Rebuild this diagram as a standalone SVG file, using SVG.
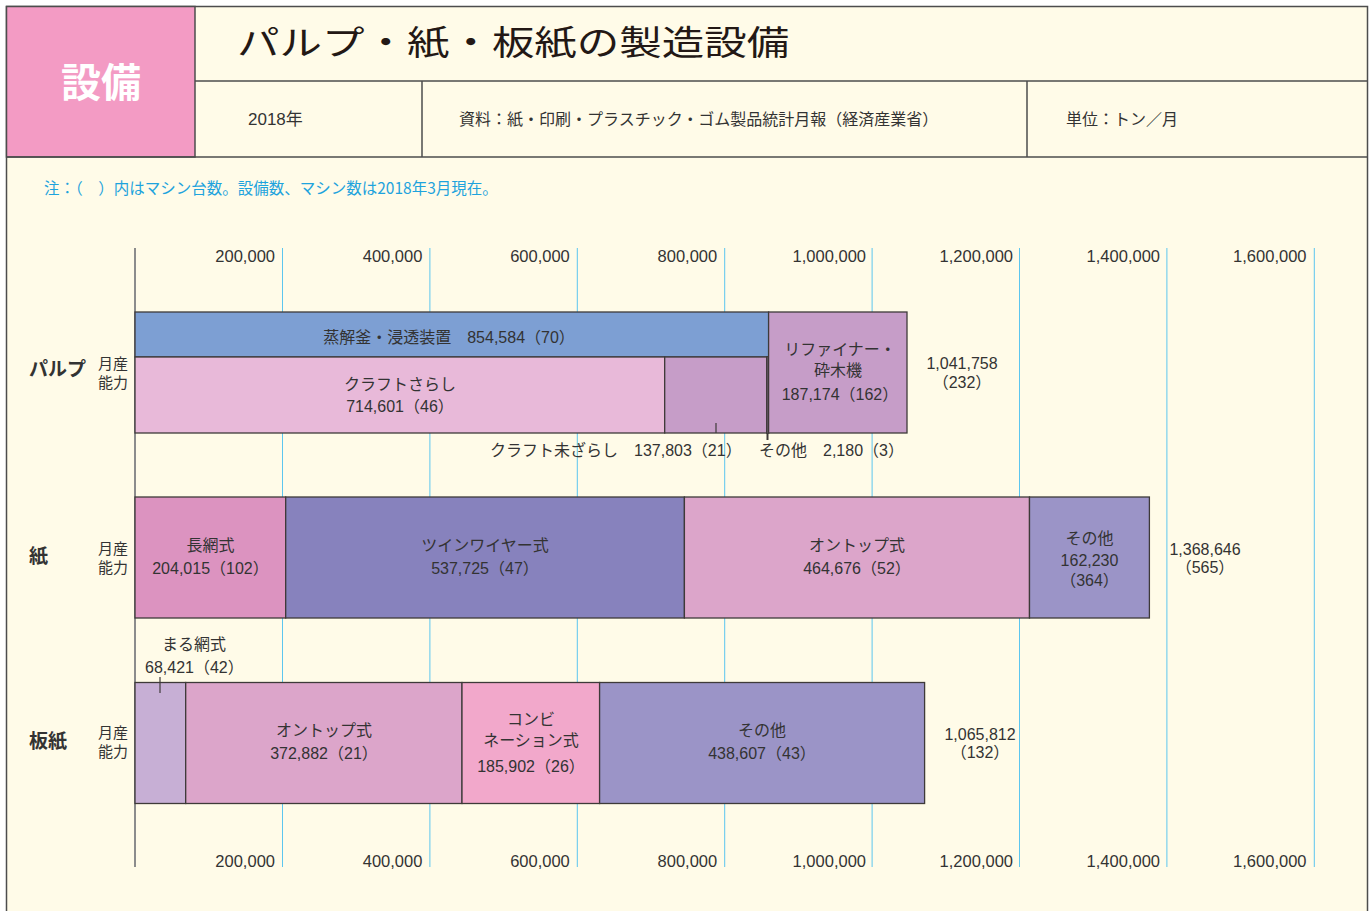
<svg xmlns="http://www.w3.org/2000/svg" width="1371" height="911" viewBox="0 0 1371 911">
<style>
text{font-family:"Liberation Sans","Noto Sans CJK JP",sans-serif;fill:#333;}
.jp{font-family:"Noto Sans CJK JP",sans-serif;}
.lb{font-size:16px;text-anchor:middle;}
.ax{font-size:16.5px;text-anchor:end;}
.hd{font-size:16px;font-family:"Noto Sans CJK JP",sans-serif;}
.cat{font-size:19px;font-weight:bold;font-family:"Noto Sans CJK JP",sans-serif;}
.sub{font-size:15px;font-family:"Noto Sans CJK JP",sans-serif;text-anchor:end;}
.bar{stroke:#3e3a39;stroke-width:1.3;}
.grid{stroke:#5cc6ef;stroke-width:1;}
.rule{stroke:#4d4d4d;stroke-width:1.5;}
.lead{stroke:#3e3a39;stroke-width:1.2;}
</style>
<rect x="0" y="0" width="1371" height="911" fill="#ffffff"/>
<g id="frame">
<rect x="6.5" y="6.5" width="1361" height="960" fill="#fffbe8" class="rule"/>
<rect x="6.5" y="6.5" width="188.5" height="150.5" fill="#f39bc4" class="rule"/>
<line x1="195" y1="81" x2="1368" y2="81" class="rule"/>
<line x1="6" y1="157" x2="1368" y2="157" class="rule"/>
<line x1="422" y1="81" x2="422" y2="157" class="rule"/>
<line x1="1027" y1="81" x2="1027" y2="157" class="rule"/>
</g>
<g id="header">
<text x="101" y="97" style="font-family:'Noto Sans CJK JP',sans-serif;font-size:40px;font-weight:bold;fill:#fff;text-anchor:middle">設備</text>
<text transform="scale(1.25 1)" x="189.6" y="55" style="font-family:'Noto Sans CJK JP',sans-serif;font-size:34px;fill:#231815">パルプ・紙・板紙の製造設備</text>
<text x="248" y="125" style="font-size:17px">2018<tspan class="jp">年</tspan></text>
<text x="459" y="125" class="hd">資料：紙・印刷・プラスチック・ゴム製品統計月報（経済産業省）</text>
<text x="1066" y="125" class="hd">単位：トン／月</text>
<text x="44" y="194" style="font-family:'Noto Sans CJK JP',sans-serif;font-size:15.5px;fill:#1ea3dd">注：（　）内はマシン台数。設備数、マシン数は2018年3月現在。</text>
</g>
<g id="grid">
<line x1="282.5" y1="248" x2="282.5" y2="867" class="grid"/>
<line x1="429.9" y1="248" x2="429.9" y2="867" class="grid"/>
<line x1="577.3" y1="248" x2="577.3" y2="867" class="grid"/>
<line x1="724.7" y1="248" x2="724.7" y2="867" class="grid"/>
<line x1="872.1" y1="248" x2="872.1" y2="867" class="grid"/>
<line x1="1019.5" y1="248" x2="1019.5" y2="867" class="grid"/>
<line x1="1166.9" y1="248" x2="1166.9" y2="867" class="grid"/>
<line x1="1314.3" y1="248" x2="1314.3" y2="867" class="grid"/>
<line x1="135" y1="248" x2="135" y2="867" stroke="#8c8c8c" stroke-width="2"/>
</g>
<g id="axis-top">
<text x="275" y="262" class="ax">200,000</text>
<text x="422.4" y="262" class="ax">400,000</text>
<text x="569.8" y="262" class="ax">600,000</text>
<text x="717.2" y="262" class="ax">800,000</text>
<text x="866" y="262" class="ax">1,000,000</text>
<text x="1013" y="262" class="ax">1,200,000</text>
<text x="1160" y="262" class="ax">1,400,000</text>
<text x="1306.5" y="262" class="ax">1,600,000</text>
</g>
<g id="axis-bottom">
<text x="275" y="867" class="ax">200,000</text>
<text x="422.4" y="867" class="ax">400,000</text>
<text x="569.8" y="867" class="ax">600,000</text>
<text x="717.2" y="867" class="ax">800,000</text>
<text x="866" y="867" class="ax">1,000,000</text>
<text x="1013" y="867" class="ax">1,200,000</text>
<text x="1160" y="867" class="ax">1,400,000</text>
<text x="1306.5" y="867" class="ax">1,600,000</text>
</g>
<g id="pulp-label">
<text x="29" y="376" class="cat">パルプ</text>
<text x="128" y="369" class="sub">月産</text>
<text x="128" y="388" class="sub">能力</text>
</g>
<g id="pulp-digester">
<rect x="135" y="312" width="633.6" height="45" fill="#7d9fd3" class="bar"/>
<text x="449" y="343" class="lb"><tspan class="jp">蒸解釜・浸透装置　</tspan>854,584（70）</text>
</g>
<g id="pulp-kraft-bleached">
<rect x="135" y="357" width="529.7" height="76" fill="#e8b9d9" class="bar"/>
<text x="400" y="390" class="lb jp">クラフトさらし</text>
<text x="400" y="412" class="lb">714,601（46）</text>
</g>
<g id="pulp-kraft-unbleached">
<rect x="664.7" y="357" width="102.2" height="76" fill="#c69dc8" class="bar"/>
<text x="490" y="456" style="font-size:16px"><tspan class="jp">クラフト未ざらし　</tspan>137,803（21）</text>
</g>
<g id="pulp-other">
<rect x="766.9" y="357" width="1.7" height="76" fill="#c69dc8" stroke="#3e3a39" stroke-width="1.6"/>
<text x="759" y="456" style="font-size:16px"><tspan class="jp">その他　</tspan>2,180（3）</text>
</g>
<g id="pulp-refiner">
<rect x="768.6" y="312" width="138.4" height="121" fill="#c69dc8" class="bar"/>
<text x="840" y="355" class="lb jp">リファイナー・</text>
<text x="838" y="376" class="lb jp">砕木機</text>
<text x="840" y="400" class="lb">187,174（162）</text>
</g>
<g id="pulp-total">
<text x="962" y="369" class="lb">1,041,758</text>
<text x="962" y="388" class="lb">（232）</text>
</g>
<g id="paper-label">
<text x="29" y="563" class="cat">紙</text>
<text x="128" y="554" class="sub">月産</text>
<text x="128" y="573" class="sub">能力</text>
</g>
<g id="paper-fourdrinier">
<rect x="135" y="497" width="150.7" height="121" fill="#dc93c0" class="bar"/>
<text x="210.5" y="551" class="lb jp">長網式</text>
<text x="210.5" y="574" class="lb">204,015（102）</text>
</g>
<g id="paper-twinwire">
<rect x="285.7" y="497" width="398.7" height="121" fill="#8782bd" class="bar"/>
<text x="485" y="551" class="lb jp">ツインワイヤー式</text>
<text x="485" y="574" class="lb">537,725（47）</text>
</g>
<g id="paper-ontop">
<rect x="684.4" y="497" width="345.1" height="121" fill="#dca5ca" class="bar"/>
<text x="857" y="551" class="lb jp">オントップ式</text>
<text x="857" y="574" class="lb">464,676（52）</text>
</g>
<g id="paper-other">
<rect x="1029.5" y="497" width="119.9" height="121" fill="#9b94c7" class="bar"/>
<text x="1089.5" y="544" class="lb jp">その他</text>
<text x="1089.5" y="566" class="lb">162,230</text>
<text x="1089.5" y="586" class="lb">（364）</text>
</g>
<g id="paper-total">
<text x="1205" y="555" class="lb">1,368,646</text>
<text x="1205" y="573" class="lb">（565）</text>
</g>
<g id="board-label">
<text x="29" y="748" class="cat">板紙</text>
<text x="128" y="738" class="sub">月産</text>
<text x="128" y="757" class="sub">能力</text>
</g>
<g id="board-cylinder">
<rect x="135" y="682.5" width="50.7" height="121" fill="#c7afd5" class="bar"/>
<text x="194" y="650" class="lb jp">まる網式</text>
<text x="145" y="673" style="font-size:16px">68,421（42）</text>
</g>
<g id="board-ontop">
<rect x="185.7" y="682.5" width="276.3" height="121" fill="#dca5ca" class="bar"/>
<text x="324" y="736" class="lb jp">オントップ式</text>
<text x="324" y="759" class="lb">372,882（21）</text>
</g>
<g id="board-combination">
<rect x="462" y="682.5" width="137.6" height="121" fill="#f2a8cb" class="bar"/>
<text x="531" y="725" class="lb jp">コンビ</text>
<text x="531" y="746" class="lb jp">ネーション式</text>
<text x="531" y="772" class="lb">185,902（26）</text>
</g>
<g id="board-other">
<rect x="599.6" y="682.5" width="325" height="121" fill="#9b94c7" class="bar"/>
<text x="762" y="736" class="lb jp">その他</text>
<text x="762" y="759" class="lb">438,607（43）</text>
</g>
<g id="board-total">
<text x="980" y="740" class="lb">1,065,812</text>
<text x="980" y="758" class="lb">（132）</text>
</g>
<g id="connectors">
<line x1="716" y1="423" x2="716" y2="433" class="lead"/>
<line x1="767.5" y1="433" x2="767.5" y2="440" stroke="#3e3a39" stroke-width="2"/>
<line x1="160" y1="677" x2="160" y2="693" class="lead"/>
</g>
</svg>
